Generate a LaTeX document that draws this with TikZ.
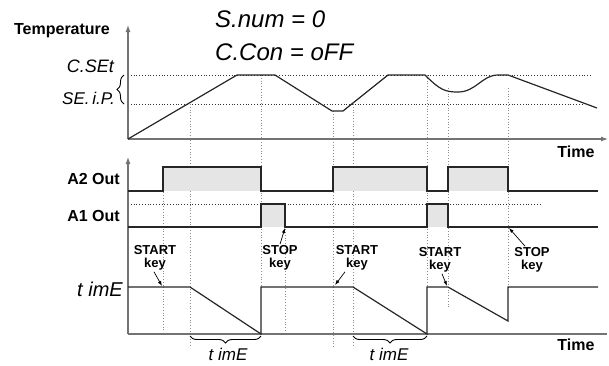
\documentclass[tikz,border=0pt]{standalone}
\usepackage{fontspec}
\setmainfont{Liberation Sans}
\newfontfamily\segfont{Liberation Sans}
\usetikzlibrary{arrows.meta,decorations.pathreplacing}

\tikzset{
	axisline/.style={line width=1.1pt,color=black!55},
	signal/.style={line width=1.2pt,color=black!85,line join=miter},
	level/.style={dotted,line width=0.8pt,color=black!80},
	guide/.style={dotted,line width=0.8pt,color=black!45},
	keyarrow/.style={-{Latex[length=5pt,width=3.5pt]},line width=0.7pt},
	lab/.style={font=\bfseries\fontsize{16}{18}\selectfont,inner sep=0pt},
	keylab/.style={font=\bfseries\fontsize{13}{13.5}\selectfont,align=center,inner sep=0pt},
	seg/.style={font=\segfont\itshape\fontsize{#1}{#1}\selectfont,inner sep=0pt},
	onbrace/.style={decorate,decoration={brace,amplitude=7pt},line width=0.9pt}
}

\begin{document}
\begin{tikzpicture}[x=1pt,y=-1pt]
	\useasboundingbox (0,0) rectangle (609,365);
	% Hilfslinien (Pegel)
	\draw[level] (128,75) -- (592,75);
	\draw[level] (128,104) -- (583,104);
	\draw[level] (128,204) -- (540,204);
	% Hilfslinien (senkrecht)
	\draw[guide] (163,167) -- (163,332);
	\draw[guide] (190,104) -- (190,346);
	\draw[guide] (261,75) -- (261,287);
	\draw[guide] (285,204) -- (285,332);
	\draw[guide] (333,111) -- (333,347);
	\draw[guide] (353,104) -- (353,347);
	\draw[guide] (427,75) -- (427,287);
	\draw[guide] (448,88) -- (448,308);
	\draw[guide] (508,88) -- (508,287);
	% Flaechen
	\fill[gray!20] (163,167) rectangle (261,191);
	\fill[gray!20] (333,167) rectangle (427,191);
	\fill[gray!20] (448,167) rectangle (508,191);
	\fill[gray!20] (261,204) rectangle (285,227);
	\fill[gray!20] (427,204) rectangle (448,227);
	% Achsen (oben)
	\draw[
		axisline,
		-{Latex[length=7pt,width=5pt]}
	] (128,139) -- (128,25);
	\draw[
		axisline,
		-{Latex[length=7pt,width=5pt]}
	] (128,139) -- (608,139);
	% Achsen (unten)
	\draw[
		axisline,
		-{Latex[length=7pt,width=5pt]}
	] (128,334) -- (128,157);
	\draw[axisline] (128,334) -- (607,334);
	% Temperatur
	\draw[signal] (128,139) -- (237,75) -- (275,75) -- (332,111) -- (343,111) --
		(388,75) -- (425,75) .. controls (440,90) and (445,92) .. (458,92)
		.. controls (476,92) and (482,75) .. (498,75) -- (508,75) -- (597,108);
	% A2 Out
	\draw[signal] (128,191) -- (163,191) -- (163,167) -- (261,167) -- (261,191) --
		(333,191) -- (333,167) -- (427,167) -- (427,191) -- (448,191) --
		(448,167) -- (508,167) -- (508,191) -- (598,191);
	% A1 Out
	\draw[signal] (128,227) -- (261,227) -- (261,204) -- (285,204) -- (285,227) --
		(427,227) -- (427,204) -- (448,204) -- (448,227) -- (598,227);
	% Timer
	\draw[signal] (128,287) -- (190,287) -- (261,334) -- (261,287) -- (353,287) --
		(427,334) -- (427,287) -- (448,287) -- (508,321) -- (508,287) -- (598,287);
	% Klammern
	\draw[onbrace] (124,104) -- (124,75);
	\draw[onbrace] (261,336) -- (190,336);
	\draw[onbrace] (427,336) -- (353,336);
	% Beschriftung
	\node[lab] (temp) at (62,31) {Temperature};
	\node[lab] (timeA) at (576,152) {Time};
	\node[lab] (timeB) at (576,345) {Time};
	\node[lab,anchor=east] (atwo) at (120,179) {A2 Out};
	\node[lab,anchor=east] (aone) at (120,216) {A1 Out};
	\node[seg=18,anchor=east] (cset) at (114,66) {C.SEt};
	\node[seg=17,anchor=east] (setp) at (115,98) {SE.\,i.P.};
	\node[seg=24,anchor=west] (snum) at (215,19) {S.num = 0};
	\node[seg=24,anchor=west] (ccon) at (215,52) {C.Con = oFF};
	\node[seg=20,anchor=east] (timer) at (123,289) {t imE};
	\node[seg=17] (tone) at (228,354) {t imE};
	\node[seg=17] (ttwo) at (389,354) {t imE};
	% Tasten
	\node[keylab] (startA) at (155,258) {START\\key};
	\node[keylab] (stopA) at (280,258) {STOP\\key};
	\node[keylab] (startB) at (357,258) {START\\key};
	\node[keylab] (startC) at (440,260) {START\\key};
	\node[keylab] (stopB) at (532,260) {STOP\\key};
	\coordinate (hitA) at (162,286);
	\coordinate (hitB) at (285,228);
	\coordinate (hitC) at (335,285);
	\coordinate (hitD) at (447,286);
	\coordinate (hitE) at (509,228);
	\draw[keyarrow] ([xshift=-1pt,yshift=-1pt]startA.south) -- (hitA);
	\draw[keyarrow] ([yshift=1pt]stopA.north) -- (hitB);
	\draw[keyarrow] ([xshift=-12pt,yshift=-1pt]startB.south) -- (hitC);
	\draw[keyarrow] ([xshift=2pt,yshift=-1pt]startC.south) -- (hitD);
	\draw[keyarrow] ([xshift=-7pt,yshift=1pt]stopB.north) -- (hitE);
\end{tikzpicture}
\end{document}
